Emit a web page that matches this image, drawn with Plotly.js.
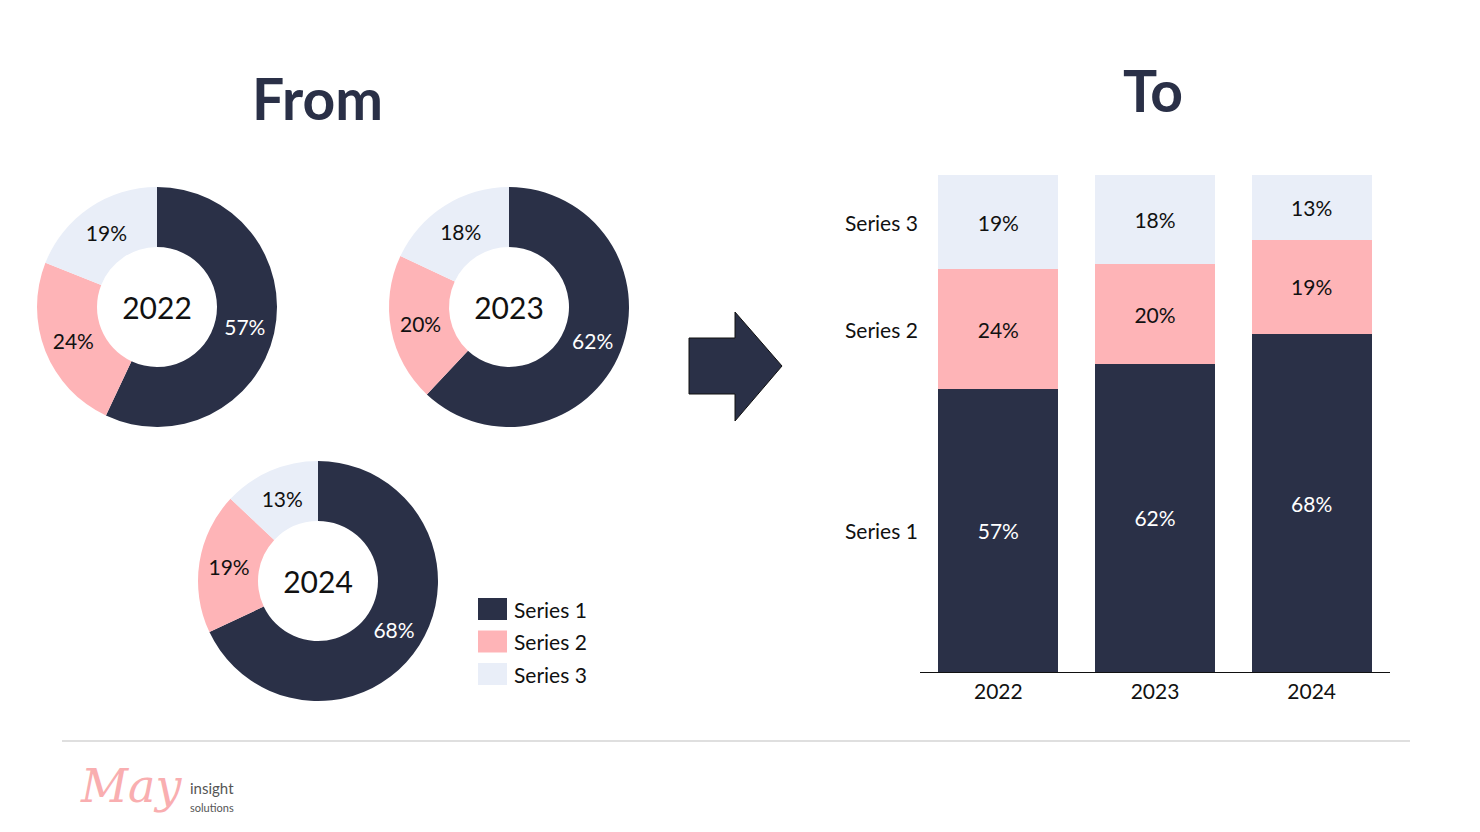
<!DOCTYPE html>
<html>
<head>
<meta charset="utf-8">
<script src="https://cdn.plot.ly/plotly-3.0.1.min.js"></script>
<style>
  html, body { margin: 0; padding: 0; background: #ffffff; }
  #chart { width: 1480px; height: 832px; }
</style>
</head>
<body>
<div id="chart"></div>
<script>
// ---- data ----
const years = ['2022', '2023', '2024'];
const seriesNames = ['Series 1', 'Series 2', 'Series 3'];
const series1 = [57, 62, 68];
const series2 = [24, 20, 19];
const series3 = [19, 18, 13];

// ---- styles ----
const W = 1480, H = 832;
const FONT = 'Lato, "Noto Sans", sans-serif';
const colors = ['#2a3047', '#feb4b7', '#e9eef8'];
const textColors = ['#ffffff', '#111111', '#111111'];
const allSeries = [series1, series2, series3];

// pixel helpers for paper coordinates
const px = x => x / W;
const py = y => 1 - y / H;

// donut placements (center x, center y, radius) in pixels
const donutPos = [[157, 307, 120], [509, 307, 120], [318, 581, 120]];

const traces = [];
years.forEach((yr, i) => {
  const [cx, cy, r] = donutPos[i];
  traces.push({
    type: 'pie',
    values: allSeries.map(s => s[i]),
    labels: seriesNames,
    hole: 0.5,
    sort: false,
    direction: 'clockwise',
    rotation: 0,
    marker: { colors: colors, line: { width: 0 } },
    texttemplate: '%{value}%',
    textposition: 'inside',
    insidetextorientation: 'horizontal',
    textfont: { family: FONT, size: 21, color: textColors },
    title: { text: yr, position: 'middle center', font: { family: FONT, size: 30, color: '#111111' } },
    domain: { x: [px(cx - r), px(cx + r)], y: [py(cy + r), py(cy - r)] },
    showlegend: false,
    hoverinfo: 'label+percent'
  });
});

// stacked bars
seriesNames.forEach((name, k) => {
  traces.push({
    type: 'bar',
    x: years,
    y: allSeries[k],
    name: name,
    marker: { color: colors[k], line: { width: 0 } },
    text: allSeries[k].map(v => v + '%'),
    textposition: 'inside',
    insidetextanchor: 'middle',
    textangle: 0,
    constraintext: 'none',
    textfont: { family: FONT, size: 21, color: textColors[k] },
    xaxis: 'x', yaxis: 'y',
    showlegend: false,
    hoverinfo: 'x+y'
  });
});

// series labels at the middle of the first bar's segments
const annotations = [];
let cum = 0;
seriesNames.forEach((name, k) => {
  const v = allSeries[k][0];
  annotations.push({
    xref: 'x', yref: 'y', x: -0.5, y: cum + v / 2,
    text: name, showarrow: false, xanchor: 'right', xshift: 0,
    font: { family: FONT, size: 21, color: '#111111' }
  });
  cum += v;
});

// headings
annotations.push({
  xref: 'paper', yref: 'paper', x: px(317), y: py(98), text: '<b>From</b>',
  showarrow: false, xanchor: 'center', yanchor: 'middle',
  font: { family: FONT, size: 57, color: '#2a3047' }
});
annotations.push({
  xref: 'paper', yref: 'paper', x: px(1153), y: py(90), text: '<b>To</b>',
  showarrow: false, xanchor: 'center', yanchor: 'middle',
  font: { family: FONT, size: 57, color: '#2a3047' }
});

// custom legend
const shapes = [];
seriesNames.forEach((name, k) => {
  const yc = 609 + k * 32.5;
  shapes.push({
    type: 'rect', xref: 'paper', yref: 'paper',
    x0: px(478), x1: px(507), y0: py(yc + 11), y1: py(yc - 11),
    fillcolor: colors[k], line: { width: 0 }
  });
  annotations.push({
    xref: 'paper', yref: 'paper', x: px(512), y: py(yc), text: name,
    showarrow: false, xanchor: 'left', yanchor: 'middle',
    font: { family: FONT, size: 21, color: '#111111' }
  });
});

// arrow
const arrowPts = [[689, 338], [735, 338], [735, 312], [782, 366], [735, 421], [735, 394], [689, 394]];
shapes.push({
  type: 'path', xref: 'paper', yref: 'paper',
  path: 'M ' + arrowPts.map(p => px(p[0]) + ',' + py(p[1])).join(' L ') + ' Z',
  fillcolor: '#2a3047', line: { color: '#111111', width: 1 }
});

// footer line
shapes.push({
  type: 'line', xref: 'paper', yref: 'paper',
  x0: px(62), x1: px(1410), y0: py(741), y1: py(741),
  line: { color: '#d4d4d4', width: 1.5 }
});

// logo
annotations.push({
  xref: 'paper', yref: 'paper', x: px(78), y: py(786), text: '<i>May</i>',
  showarrow: false, xanchor: 'left', yanchor: 'middle',
  font: { family: '"DejaVu Serif", serif', size: 46, color: '#f9aeb0' }
});
annotations.push({
  xref: 'paper', yref: 'paper', x: px(188), y: py(788), text: 'insight',
  showarrow: false, xanchor: 'left', yanchor: 'middle',
  font: { family: FONT, size: 15, color: '#555555' }
});
annotations.push({
  xref: 'paper', yref: 'paper', x: px(188), y: py(807), text: 'solutions',
  showarrow: false, xanchor: 'left', yanchor: 'middle',
  font: { family: FONT, size: 11, color: '#555555' }
});

const layout = {
  width: W, height: H,
  margin: { l: 0, r: 0, t: 0, b: 0 },
  paper_bgcolor: '#ffffff', plot_bgcolor: '#ffffff',
  barmode: 'stack',
  bargap: 0.234,
  showlegend: false,
  xaxis: {
    domain: [px(920), px(1390)],
    type: 'category',
    range: [-0.5, 2.5],
    showgrid: false, zeroline: false,
    showline: true, linecolor: '#111111', linewidth: 1,
    ticks: '', ticklabelstandoff: 1,
    tickfont: { family: FONT, size: 21, color: '#111111' },
    fixedrange: true
  },
  yaxis: {
    domain: [py(672), py(175)],
    range: [0, 100],
    showgrid: false, zeroline: false, showline: false,
    showticklabels: false, ticks: '',
    fixedrange: true
  },
  annotations: annotations,
  shapes: shapes,
  font: { family: FONT }
};

Plotly.newPlot('chart', traces, layout, { displayModeBar: false, staticPlot: true });
</script>
</body>
</html>
